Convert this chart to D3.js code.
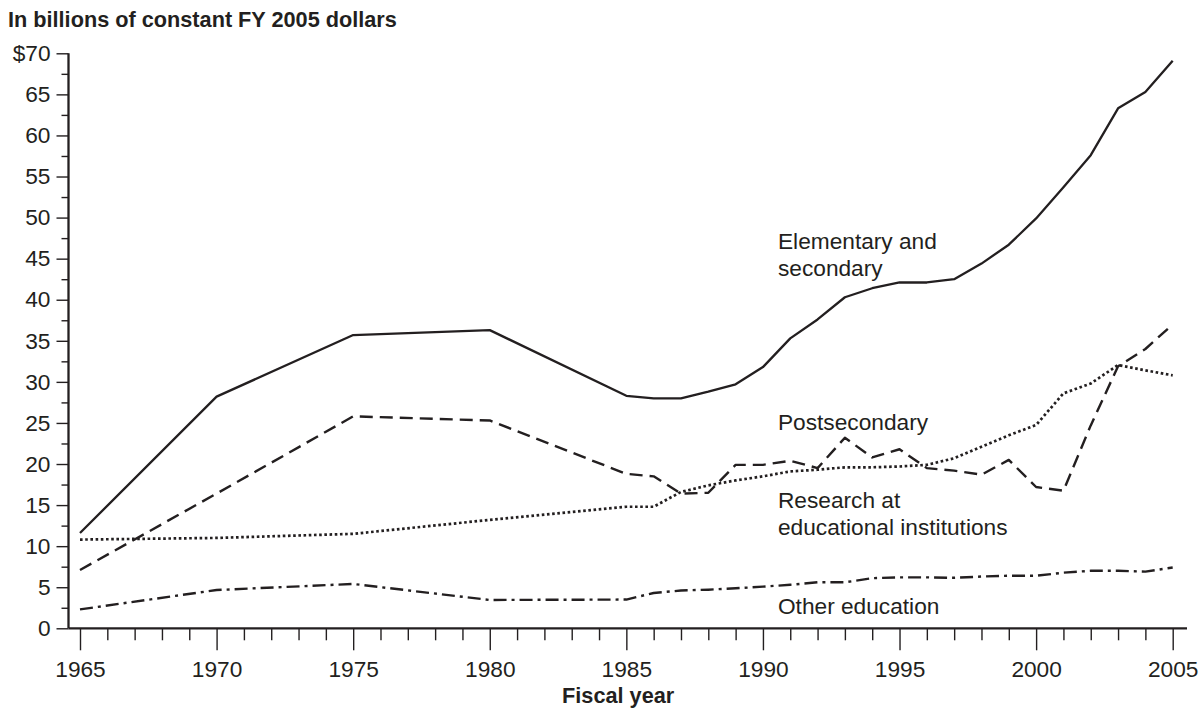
<!DOCTYPE html>
<html>
<head>
<meta charset="utf-8">
<script src="https://cdn.jsdelivr.net/npm/d3@7"></script>
<style>
  html, body { margin: 0; padding: 0; background: #fff; }
  svg { display: block; font-family: "Liberation Sans", Arial, Helvetica, sans-serif; }
  .axis path, .axis line { stroke: #231f20; }
  .axis text { fill: #231f20; }
</style>
</head>
<body>
<svg id="chart" width="1203" height="711"></svg>
<script>
const years = [1965, 1970, 1975, 1980, 1985, 1986, 1987, 1988, 1989, 1990, 1991, 1992, 1993, 1994, 1995, 1996, 1997, 1998, 1999, 2000, 2001, 2002, 2003, 2004, 2005];
const elementarySecondary = [11.6, 28.2, 35.7, 36.3, 28.3, 28.0, 28.0, 28.8, 29.7, 31.8, 35.3, 37.6, 40.3, 41.4, 42.1, 42.1, 42.5, 44.4, 46.7, 49.9, 53.7, 57.6, 63.3, 65.3, 69.1];
const postsecondary = [7.1, 16.4, 25.8, 25.3, 18.8, 18.5, 16.4, 16.5, 19.9, 19.9, 20.4, 19.5, 23.2, 20.8, 21.8, 19.5, 19.2, 18.7, 20.5, 17.2, 16.75, 24.7, 31.9, 34.0, 37.0];
const research = [10.8, 11.0, 11.5, 13.2, 14.8, 14.8, 16.6, 17.4, 18.0, 18.5, 19.1, 19.3, 19.6, 19.6, 19.7, 19.9, 20.7, 22.1, 23.5, 24.75, 28.6, 29.8, 32.05, 31.4, 30.8];
const otherEducation = [2.3, 4.66, 5.4, 3.45, 3.5, 4.3, 4.6, 4.7, 4.87, 5.07, 5.3, 5.6, 5.6, 6.1, 6.2, 6.2, 6.15, 6.3, 6.4, 6.4, 6.77, 7.0, 7.0, 6.9, 7.4];

const yMajorTicks = [0, 5, 10, 15, 20, 25, 30, 35, 40, 45, 50, 55, 60, 65, 70];
const yMinorTicks = [2.5, 7.5, 12.5, 17.5, 22.5, 27.5, 32.5, 37.5, 42.5, 47.5, 52.5, 57.5, 62.5, 67.5];
const xMajorTicks = [1965, 1970, 1975, 1980, 1985, 1990, 1995, 2000, 2005];
const xMinorTicks = d3.range(1965, 2006);

const titleText = "In billions of constant FY 2005 dollars";
const xTitle = "Fiscal year";
const seriesLabels = [
  { lines: ["Elementary and", "secondary"], year: 1990.55, value: 46.2 },
  { lines: ["Postsecondary"], year: 1990.55, value: 24.1 },
  { lines: ["Research at", "educational institutions"], year: 1990.55, value: 14.6 },
  { lines: ["Other education"], year: 1990.55, value: 1.75 }
];

const ink = "#231f20";
const svg = d3.select("#chart");
const x = d3.scaleLinear().domain([1965, 2005]).range([80, 1172.7]);
const y = d3.scaleLinear().domain([0, 70]).range([628.3, 53.3]);
const fs = 22.7;

// Title
svg.append("text").attr("x", 8).attr("y", 26.7)
  .attr("font-size", 21.7).attr("font-weight", "bold").attr("fill", ink).text(titleText);

// Y axis
const yAxisG = svg.append("g").attr("class", "axis").attr("transform", "translate(68.5,0)");
yAxisG.call(d3.axisLeft(y).tickValues(yMajorTicks).tickSize(12).tickPadding(6)
  .tickFormat(d => d === 70 ? "$70" : d));
yAxisG.select(".domain").attr("d", `M0,${y(70)}V${y(0)}`).attr("stroke-width", 2.3);
yAxisG.selectAll(".tick line").attr("stroke-width", 1.4);
yAxisG.selectAll(".tick text").attr("font-size", fs).attr("font-family", "Liberation Sans, Arial, sans-serif");
const yMinorG = svg.append("g").attr("class", "axis").attr("transform", "translate(68.5,0)");
yMinorG.call(d3.axisLeft(y).tickValues(yMinorTicks).tickSize(7).tickFormat(""));
yMinorG.select(".domain").remove();
yMinorG.selectAll(".tick line").attr("stroke-width", 1.4);

// X axis
const xAxisG = svg.append("g").attr("class", "axis").attr("transform", `translate(0,${y(0)})`);
xAxisG.call(d3.axisBottom(x).tickValues(xMajorTicks).tickSize(22).tickPadding(11).tickFormat(d3.format("d")));
xAxisG.select(".domain").attr("d", "M68.5,0H1187").attr("stroke-width", 2.3);
xAxisG.selectAll(".tick line").attr("stroke-width", 1.4);
xAxisG.selectAll(".tick text").attr("font-size", fs).attr("font-family", "Liberation Sans, Arial, sans-serif");
const xMinorG = svg.append("g").attr("class", "axis").attr("transform", `translate(0,${y(0)})`);
xMinorG.call(d3.axisBottom(x).tickValues(xMinorTicks.filter(v => v % 5 !== 0)).tickSize(12).tickFormat(""));
xMinorG.select(".domain").remove();
xMinorG.selectAll(".tick line").attr("stroke-width", 1.4);

svg.append("text").attr("x", x(1984.7)).attr("y", 703).attr("text-anchor", "middle")
  .attr("font-size", 21.7).attr("font-weight", "bold").attr("fill", ink).text(xTitle);

// Lines
const line = d3.line().x((d, i) => x(years[i])).y(d => y(d));
const series = [
  { data: otherEducation, dash: "13,5,3,5", width: 2.4 },
  { data: research, dash: "2.6,2.6", width: 2.7 },
  { data: postsecondary, dash: "13,7", width: 2.4 },
  { data: elementarySecondary, dash: null, width: 2.3 }
];
series.forEach(s => {
  svg.append("path").attr("d", line(s.data)).attr("fill", "none")
    .attr("stroke", ink).attr("stroke-width", s.width)
    .attr("stroke-linejoin", "round")
    .attr("stroke-dasharray", s.dash);
});

// Labels
seriesLabels.forEach(l => {
  const t = svg.append("text").attr("x", x(l.year)).attr("y", y(l.value))
    .attr("font-size", fs).attr("fill", ink);
  l.lines.forEach((ln, i) => {
    t.append("tspan").attr("x", x(l.year)).attr("dy", i === 0 ? 0 : 26.7).text(ln);
  });
});
</script>
</body>
</html>
